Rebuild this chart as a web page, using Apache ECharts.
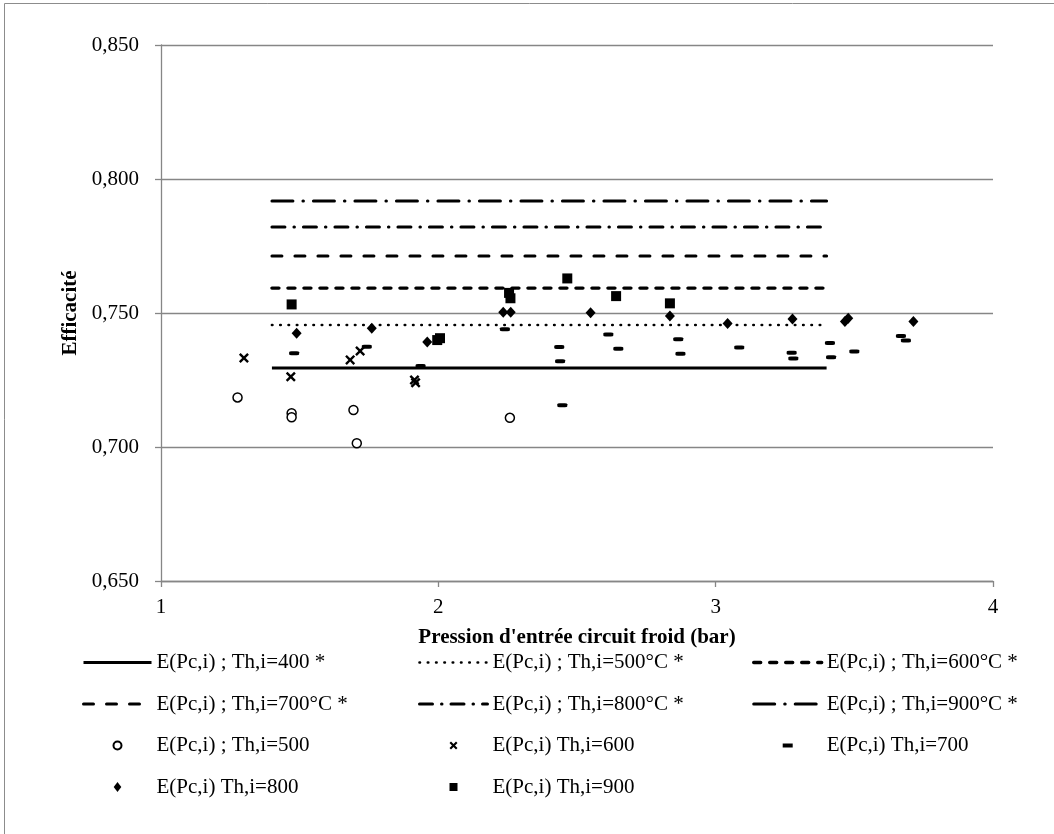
<!DOCTYPE html>
<html>
<head>
<meta charset="utf-8">
<script src="https://cdn.jsdelivr.net/npm/echarts@6/dist/echarts.min.js"></script>
<style>html,body{margin:0;padding:0;background:#fff;}#c{width:1054px;height:834px;}</style>
</head>
<body>
<div id="c"></div>
<script>
// ---- data ----
const yTicks = [0.65, 0.70, 0.75, 0.80, 0.85];
const xTicks = [1, 2, 3, 4];
const modelX = [1.4, 3.4];
const modelNames = ['E(Pc,i) ; Th,i=400 *', 'E(Pc,i) ; Th,i=500°C *', 'E(Pc,i) ; Th,i=600°C *',
                    'E(Pc,i) ; Th,i=700°C *', 'E(Pc,i) ; Th,i=800°C *', 'E(Pc,i) ; Th,i=900°C *'];
const modelEff = [0.7295, 0.7455, 0.7593, 0.7713, 0.7821, 0.7918];

const meas500 = [[1.276,0.7185],[1.471,0.7126],[1.471,0.7111],[1.694,0.7138],[1.706,0.7014],[2.258,0.7109]];
const meas600 = [[1.299,0.7332],[1.468,0.7262],[1.682,0.7325],[1.718,0.7358],[1.914,0.7250],[1.918,0.7240]];
const meas700 = [[1.480,0.7350],[1.742,0.7374],[1.936,0.7302],[2.240,0.7439],[2.436,0.7373],[2.439,0.7320],
                 [2.447,0.7156],[2.613,0.7420],[2.649,0.7367],[2.865,0.7402],[2.873,0.7348],[3.085,0.7371],
                 [3.274,0.7352],[3.280,0.7330],[3.412,0.7388],[3.416,0.7335],[3.500,0.7356],[3.668,0.7414],[3.686,0.7397]];
const meas800 = [[1.489,0.7424],[1.760,0.7443],[1.960,0.7392],[2.234,0.7503],[2.261,0.7503],[2.549,0.7501],
                 [2.835,0.7489],[3.043,0.7461],[3.277,0.7478],[3.466,0.7468],[3.478,0.7480],[3.713,0.7468]];
const meas900 = [[1.471,0.7532],[1.996,0.7399],[2.006,0.7406],[2.255,0.7575],[2.260,0.7555],[2.465,0.7629],
                 [2.641,0.7563],[2.835,0.7536]];
const measNames = ['E(Pc,i) ; Th,i=500', 'E(Pc,i) Th,i=600', 'E(Pc,i) Th,i=700', 'E(Pc,i) Th,i=800', 'E(Pc,i) Th,i=900'];

// ---- styles ----
const FONT = 'Liberation Serif';
const FS = 21;
const lineStyles = [
  {width: 3, type: 'solid'},
  {width: 2.6, type: [0.5, 7.8], cap: 'round'},
  {width: 3.4, type: [7, 9], cap: 'round'},
  {width: 3, type: [10, 13], cap: 'round'},
  {width: 3, type: [13, 9, 0.5, 9], cap: 'round'},
  {width: 3, type: [21, 10, 0.5, 10], cap: 'round'}
];
const xPath = 'path://M0,1.7 L1.7,0 L5,3.3 L8.3,0 L10,1.7 L6.7,5 L10,8.3 L8.3,10 L5,6.7 L1.7,10 L0,8.3 L3.3,5 Z';
const icons = {
  circle: 'path://M0,0 M10,10 M5,1 A4,4 0 1 1 4.99,1 Z',
  cross: 'path://M0,0 M10,10 M1,2.5 L2.5,1 L5,3.5 L7.5,1 L9,2.5 L6.5,5 L9,7.5 L7.5,9 L5,6.5 L2.5,9 L1,7.5 L3.5,5 Z',
  dash: 'path://M0,0 M20,10 M5,3 h10 v4 h-10 Z',
  diamond: 'path://M0,0 M16,10 M8,0 L11.8,5 L8,10 L4.2,5 Z',
  square: 'path://M0,0 M16,10 M4,1 h8 v8 h-8 Z'
};

const series = [];
modelEff.forEach((v, i) => {
  series.push({
    name: modelNames[i], type: 'line', symbol: 'none', silent: true,
    data: modelX.map(x => [x, v]),
    lineStyle: Object.assign({color: '#000'}, lineStyles[i]),
    itemStyle: {color: '#000'}
  });
});
series.push({name: measNames[0], type: 'scatter', data: meas500, symbol: 'circle', symbolSize: 9,
  itemStyle: {color: '#fff', borderColor: '#000', borderWidth: 1.5, opacity: 1}});
series.push({name: measNames[1], type: 'scatter', data: meas600, symbol: xPath, symbolSize: 10,
  itemStyle: {color: '#000', opacity: 1}});
series.push({name: measNames[2], type: 'scatter', data: meas700, symbol: 'roundRect', symbolSize: [10, 4],
  itemStyle: {color: '#000', opacity: 1}});
series.push({name: measNames[3], type: 'scatter', data: meas800, symbol: 'diamond', symbolSize: [10, 11],
  itemStyle: {color: '#000', opacity: 1}});
series.push({name: measNames[4], type: 'scatter', data: meas900, symbol: 'rect', symbolSize: 10,
  itemStyle: {color: '#000', opacity: 1}});

const lineItem = i => ({name: modelNames[i], itemStyle: {opacity: 0},
  lineStyle: {width: lineStyles[i].width}});
const legendBase = {
  orient: 'vertical', top: 652, padding: 0, itemWidth: 68, itemHeight: 10, itemGap: 20.5,
  selectedMode: false,
  textStyle: {fontFamily: FONT, fontSize: FS, color: '#000'}
};
const legends = [
  Object.assign({left: 82, data: [lineItem(0), lineItem(3),
    {name: measNames[0], icon: icons.circle}, {name: measNames[3], icon: icons.diamond}]}, legendBase),
  Object.assign({left: 418, data: [lineItem(1), lineItem(4),
    {name: measNames[1], icon: icons.cross}, {name: measNames[4], icon: icons.square}]}, legendBase),
  Object.assign({left: 752, data: [lineItem(2), lineItem(5),
    {name: measNames[2], icon: icons.dash}]}, legendBase)
];

const chart = echarts.init(document.getElementById('c'), null, {renderer: 'canvas'});
chart.setOption({
  backgroundColor: '#fff',
  animation: false,
  graphic: [{type: 'rect', shape: {x: 4.5, y: 3.5, width: 1100, height: 900},
    style: {fill: 'none', stroke: '#8c8c8c', lineWidth: 1}, silent: true, z: -1}],
  grid: {left: 161, right: 61, top: 45, bottom: 253},
  legend: legends,
  xAxis: {
    type: 'value', min: xTicks[0], max: xTicks[xTicks.length - 1], interval: 1,
    name: "Pression d'entrée circuit froid (bar)", nameLocation: 'middle', nameGap: 46,
    nameTextStyle: {fontFamily: FONT, fontSize: FS, fontWeight: 'bold', color: '#000'},
    axisLine: {show: true, lineStyle: {color: '#868686', width: 1.3}},
    axisTick: {show: true, length: 6, lineStyle: {color: '#868686', width: 1.3}},
    axisLabel: {fontFamily: FONT, fontSize: FS, color: '#000', margin: 16},
    splitLine: {show: false}
  },
  yAxis: {
    type: 'value', min: yTicks[0], max: yTicks[yTicks.length - 1], interval: 0.05,
    name: 'Efficacité', nameLocation: 'middle', nameGap: 68,
    nameTextStyle: {fontFamily: FONT, fontSize: FS, fontWeight: 'bold', color: '#000'},
    axisLine: {show: true, lineStyle: {color: '#868686', width: 1.3}},
    axisTick: {show: true, length: 6, lineStyle: {color: '#868686', width: 1.3}},
    axisLabel: {fontFamily: FONT, fontSize: FS, color: '#000', margin: 22,
      formatter: v => v.toFixed(3).replace('.', ',')},
    splitLine: {show: true, lineStyle: {color: '#868686', width: 1.3}}
  },
  series: series
});
</script>
</body>
</html>
